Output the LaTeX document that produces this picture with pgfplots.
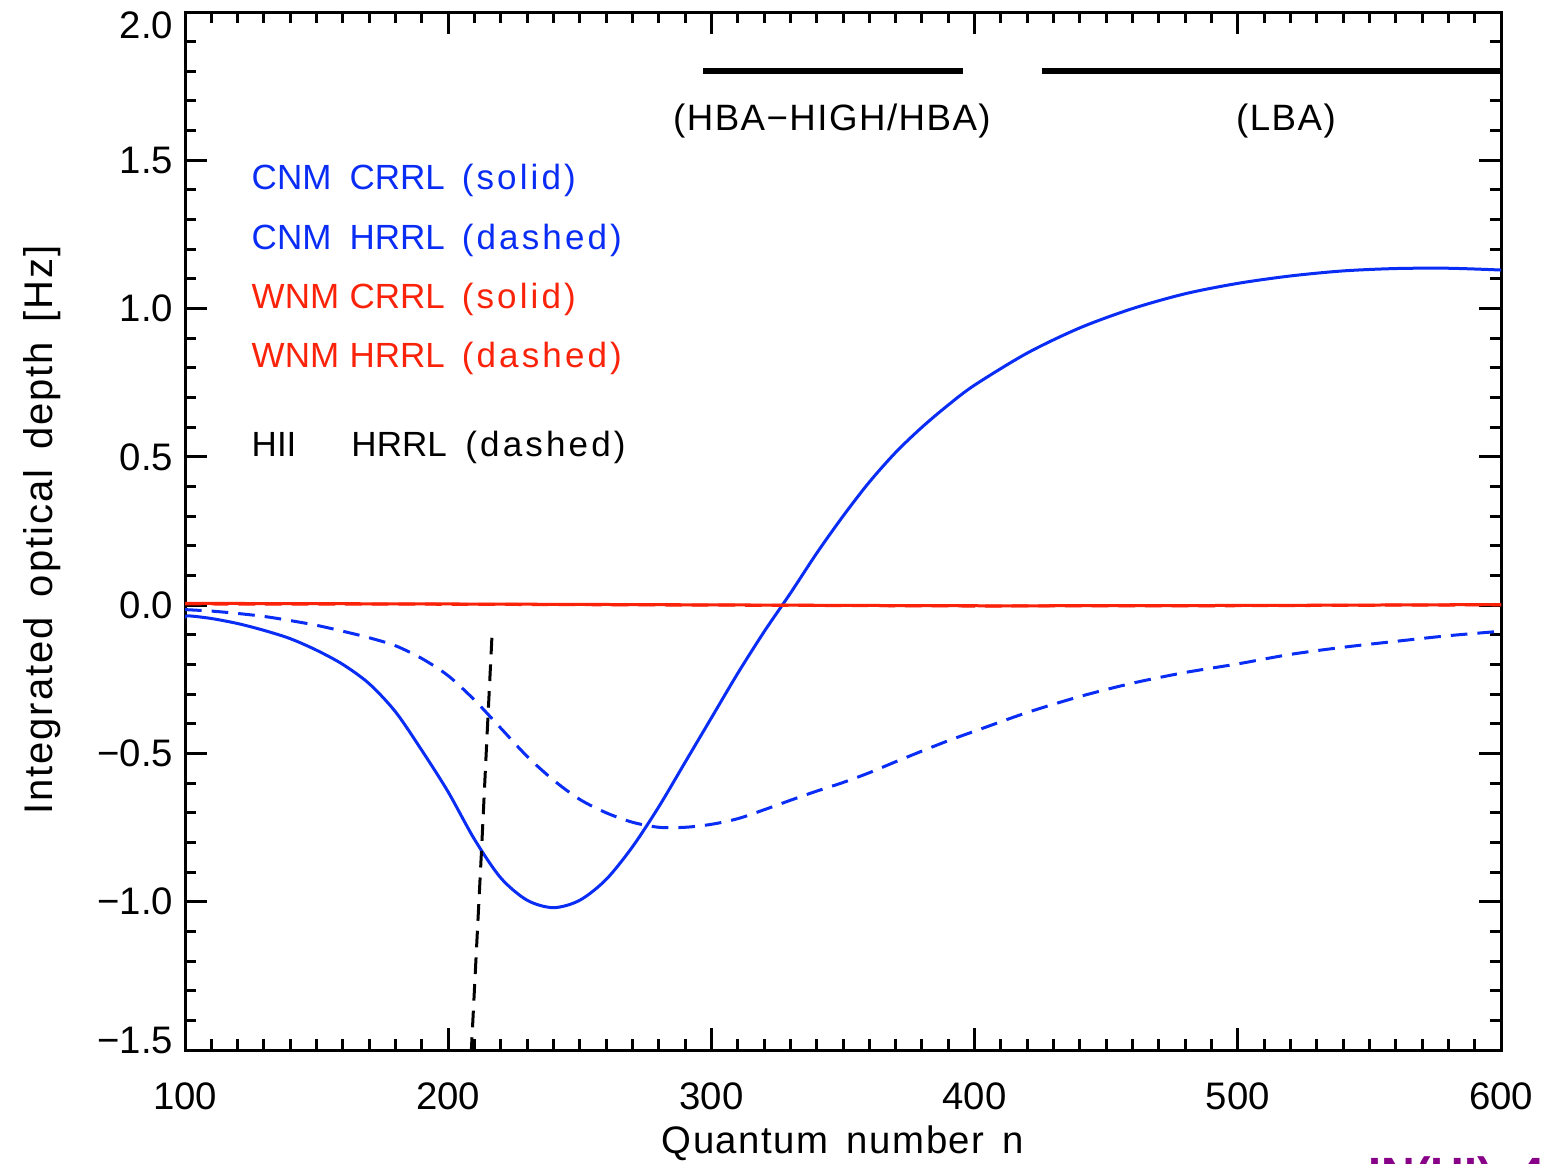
\documentclass[border=0pt]{standalone}
\usepackage{pgfplots}
\pgfplotsset{compat=1.18}
\usepackage{fontspec}
\setmainfont{Liberation Sans}
\newfontfamily\idl[LetterSpace=5,WordSpace=1.5]{Liberation Sans}
\newfontfamily\idlx[LetterSpace=4,WordSpace=1.5]{Liberation Sans}
\newfontfamily\leg{Liberation Sans}
\newfontfamily\legw[LetterSpace=9]{Liberation Sans}
\definecolor{cblue}{RGB}{10,45,245}
\definecolor{cred}{RGB}{250,35,10}
\definecolor{cpurple}{RGB}{135,0,135}
\begin{document}
\begin{tikzpicture}
\useasboundingbox (-55.5pt,-33.9pt) rectangle (407.4pt,315pt);
\clip (-55.5pt,-33.9pt) rectangle (407.4pt,315pt);
\begin{axis}[
  at={(0pt,0pt)}, anchor=south west,
  scale only axis, width=394.8pt, height=311.4pt,
  xmin=100, xmax=600, ymin=-1.5, ymax=2.0,
  xtick={100,200,300,400,500,600},
  xticklabels={100,200,300,400,500,600},
  minor x tick num=9,
  ytick={-1.5,-1,-0.5,0,0.5,1,1.5,2},
  yticklabels={{\rule[-6pt]{0pt}{6pt}−1.5},−1.0,−0.5,0.0,0.5,1.0,1.5,{\rule{0pt}{16.1pt}2.0}},
  minor y tick num=4,
  xtick pos=both, ytick pos=both,
  tick align=inside,
  major tick length=6.5pt, minor tick length=3.2pt,
  axis line style={line width=0.9pt},
  every tick/.style={black, line width=0.9pt},
  ticklabel style={font=\fontsize{11.5}{13}\selectfont},
  xticklabel style={anchor=base, yshift=-17.7pt},
  clip=true,
]
% CNM CRRL (solid)
\addplot[cblue, line width=0.9pt, smooth] coordinates {
(100,-0.045) (101,-0.036) (110,-0.045) (120,-0.062) (130,-0.085) (140,-0.113)
(150,-0.152) (160,-0.20) (170,-0.265) (180,-0.36) (190,-0.49) (200,-0.63)
(210,-0.79) (220,-0.92) (230,-0.995) (240,-1.02) (250,-0.995) (260,-0.925)
(270,-0.815) (280,-0.68) (290,-0.53) (300,-0.38) (310,-0.23) (320,-0.09)
(330,0.04) (340,0.175) (350,0.30) (360,0.415) (370,0.515) (380,0.60)
(390,0.675) (400,0.742) (420,0.85) (440,0.935) (460,1.0) (480,1.05)
(500,1.085) (520,1.11) (540,1.127) (560,1.135) (580,1.136) (600,1.13)};
% CNM HRRL (dashed)
\addplot[cblue, line width=0.9pt, smooth, dash pattern=on 5pt off 3pt] coordinates {
(100,-0.015) (110,-0.02) (120,-0.028) (130,-0.038) (140,-0.052) (150,-0.068)
(160,-0.088) (170,-0.11) (180,-0.137) (190,-0.18) (200,-0.238) (210,-0.32)
(220,-0.415) (230,-0.51) (240,-0.59) (250,-0.655) (260,-0.70) (270,-0.732)
(280,-0.749) (290,-0.749) (300,-0.739) (310,-0.72) (320,-0.69) (330,-0.658)
(340,-0.627) (350,-0.598) (360,-0.565) (370,-0.528) (380,-0.492) (390,-0.457)
(400,-0.425) (420,-0.362) (440,-0.308) (460,-0.263) (480,-0.227) (500,-0.198)
(520,-0.166) (540,-0.142) (560,-0.122) (580,-0.103) (600,-0.088)};
% WNM HRRL (dashed)
\addplot[cred, line width=0.9pt, dash pattern=on 5pt off 3pt] coordinates {
(100,0.004) (200,0.003) (300,0.0) (400,-0.003) (500,-0.002) (600,0.001)};
% WNM CRRL (solid)
\addplot[cred, line width=0.9pt, smooth] coordinates {
(100,0.006) (200,0.004) (300,0.001) (400,-0.002) (500,-0.001) (600,0.002)};
% HII HRRL (dashed)
\addplot[black, line width=0.9pt, dash pattern=on 5pt off 3pt] coordinates {
(216.6,-0.11) (214.7,-0.45) (212.7,-0.82) (210.8,-1.15) (208.8,-1.5)};
% band bars
\addplot[black, line width=1.8pt] coordinates {(296.8,1.80) (395.6,1.80)};
\addplot[black, line width=1.8pt] coordinates {(425.6,1.80) (600,1.80)};
\node[anchor=base, inner sep=0, font=\idlx\fontsize{11}{13}\selectfont] at (axis cs:345.8,1.60) {(HBA−HIGH/HBA)};
\node[anchor=base, inner sep=0, font=\idlx\fontsize{11}{13}\selectfont] at (axis cs:518.3,1.60) {(LBA)};
% legend texts
\begin{scope}[every node/.style={anchor=base west, inner sep=0, font=\leg\fontsize{10.5}{13}\selectfont}]
\node[text=cblue] at (axis cs:125.1,1.4) {CNM};
\node[text=cblue] at (axis cs:162.3,1.4) {CRRL};
\node[text=cblue, font=\legw\fontsize{10.5}{13}\selectfont] at (axis cs:204.9,1.4) {(solid)};
\node[text=cblue] at (axis cs:125.1,1.2) {CNM};
\node[text=cblue] at (axis cs:162.3,1.2) {HRRL};
\node[text=cblue, font=\legw\fontsize{10.5}{13}\selectfont] at (axis cs:204.9,1.2) {(dashed)};
\node[text=cred] at (axis cs:125.1,1.0) {WNM};
\node[text=cred] at (axis cs:162.3,1.0) {CRRL};
\node[text=cred, font=\legw\fontsize{10.5}{13}\selectfont] at (axis cs:204.9,1.0) {(solid)};
\node[text=cred] at (axis cs:125.1,0.8) {WNM};
\node[text=cred] at (axis cs:162.3,0.8) {HRRL};
\node[text=cred, font=\legw\fontsize{10.5}{13}\selectfont] at (axis cs:204.9,0.8) {(dashed)};
\node[text=black] at (axis cs:125.1,0.5) {HII};
\node[text=black] at (axis cs:163.0,0.5) {HRRL};
\node[text=black, font=\legw\fontsize{10.5}{13}\selectfont] at (axis cs:206.3,0.5) {(dashed)};
\end{scope}
\end{axis}
\node[rotate=90, font=\idl\fontsize{12}{14}\selectfont] at (-42.9pt,156pt) {Integrated optical depth [Hz]};
\node[font=\idlx\fontsize{11.5}{14}\selectfont] at (197.4pt,-27.9pt) {Quantum number n};
\node[anchor=north west, inner sep=0, text=cpurple, font=\bfseries\fontsize{14}{16}\selectfont] at (354.9pt,-31.8pt) {IN(HI)\ \ 4};
\end{tikzpicture}
\end{document}
